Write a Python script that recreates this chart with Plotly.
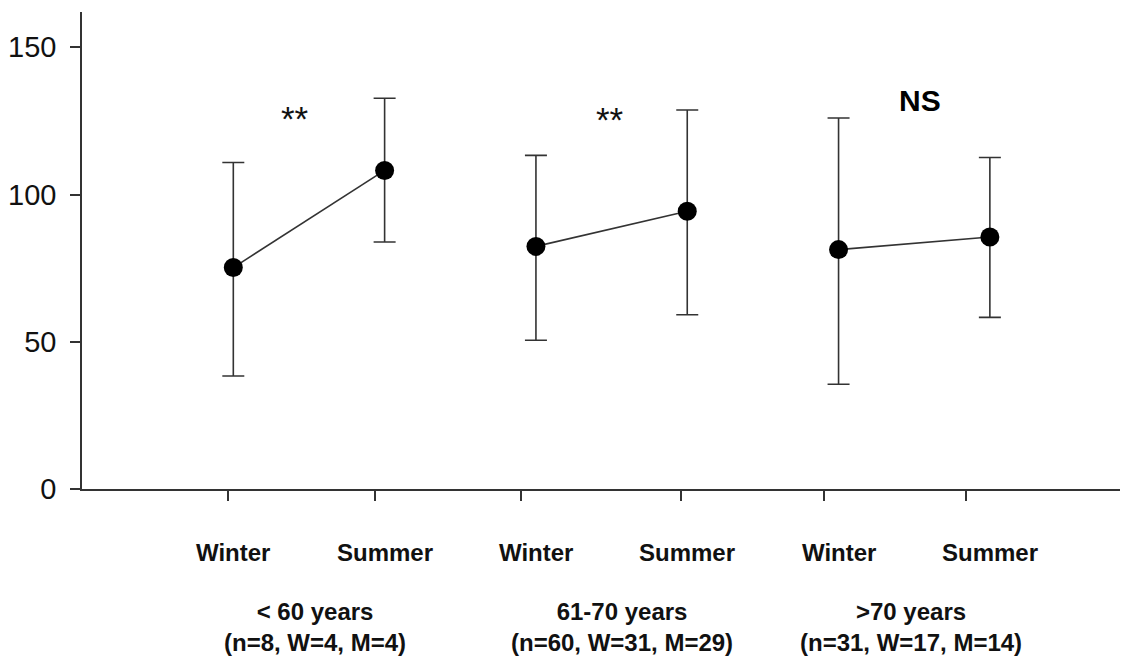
import plotly.graph_objects as go

# ---- data ----
seasons = ["Winter", "Summer", "Winter", "Summer", "Winter", "Summer"]
x_pos = [1, 2, 3, 4, 5, 6]
means = [75.2, 108.2, 82.4, 94.3, 81.3, 85.6]
sd_upper = [35.7, 24.5, 30.9, 34.4, 44.7, 27.0]
sd_lower = [36.8, 24.3, 31.9, 35.1, 45.7, 27.3]
groups = ["< 60 years<br>(n=8, W=4, M=4)",
          "61-70 years<br>(n=60, W=31, M=29)",
          ">70 years<br>(n=31, W=17, M=14)"]
group_label_x = [1.54, 3.57, 5.48]
signif = ["**", "**", "NS"]
signif_x = [1.41, 3.49, 5.54]
signif_y = [129, 128.6, 132]
x_tick_positions = [0.967, 1.939, 2.898, 3.956, 4.902, 5.841]
y_ticks = [0, 50, 100, 150]

FONT = "Liberation Sans, Arial"

fig = go.Figure()
for g in range(3):
    i0, i1 = 2 * g, 2 * g + 2
    fig.add_trace(go.Scatter(
        x=x_pos[i0:i1], y=means[i0:i1],
        mode="lines+markers",
        line=dict(color="#333333", width=1.6),
        marker=dict(color="black", size=19),
        error_y=dict(type="data", symmetric=False,
                     array=sd_upper[i0:i1], arrayminus=sd_lower[i0:i1],
                     color="#333333", thickness=1.6, width=11),
        showlegend=False, hoverinfo="skip",
    ))

# significance markers
for t, xx, yy in zip(signif, signif_x, signif_y):
    if t == "NS":
        fig.add_annotation(x=xx, y=yy, xref="x", yref="y", text="<b>NS</b>",
                           showarrow=False, font=dict(family=FONT, size=30, color="black"))
    else:
        fig.add_annotation(x=xx, y=yy, xref="x", yref="y", text=t, yshift=-9,
                           showarrow=False, font=dict(family=FONT, size=35, color="#111111"))

# category labels
for s, xx in zip(seasons, x_pos):
    fig.add_annotation(x=xx, y=-0.134, xref="x", yref="paper", text="<b>%s</b>" % s,
                       showarrow=False, yanchor="middle",
                       font=dict(family=FONT, size=24, color="#111111"))

# group labels
for gl, xx in zip(groups, group_label_x):
    fig.add_annotation(x=xx, y=-0.29, xref="x", yref="paper",
                       text="<b>" + gl.replace("<br>", "</b><br><b>") + "</b>",
                       showarrow=False, yanchor="middle", align="center",
                       font=dict(family=FONT, size=24, color="#111111"))

fig.update_layout(
    width=1128, height=650,
    margin=dict(l=74, r=16, t=4, b=169, autoexpand=False),
    plot_bgcolor="white", paper_bgcolor="white",
    font=dict(family=FONT, color="#111111"),
)
fig.update_xaxes(range=[0, 6.86], showgrid=False, zeroline=False,
                 showline=True, linecolor="#333333", linewidth=1.6,
                 tickmode="array", tickvals=x_tick_positions, ticktext=[""] * len(x_tick_positions),
                 ticks="outside", ticklen=10, tickwidth=1.6, tickcolor="#333333")
fig.update_yaxes(range=[0, 162], showgrid=False, zeroline=False,
                 showline=True, linecolor="#333333", linewidth=1.6,
                 tickmode="array", tickvals=y_ticks,
                 ticks="outside", ticklen=10, tickwidth=1.6, tickcolor="#333333",
                 ticklabelstandoff=8,
                 tickfont=dict(family=FONT, size=29, color="#111111"))

fig.write_html("out.html")
